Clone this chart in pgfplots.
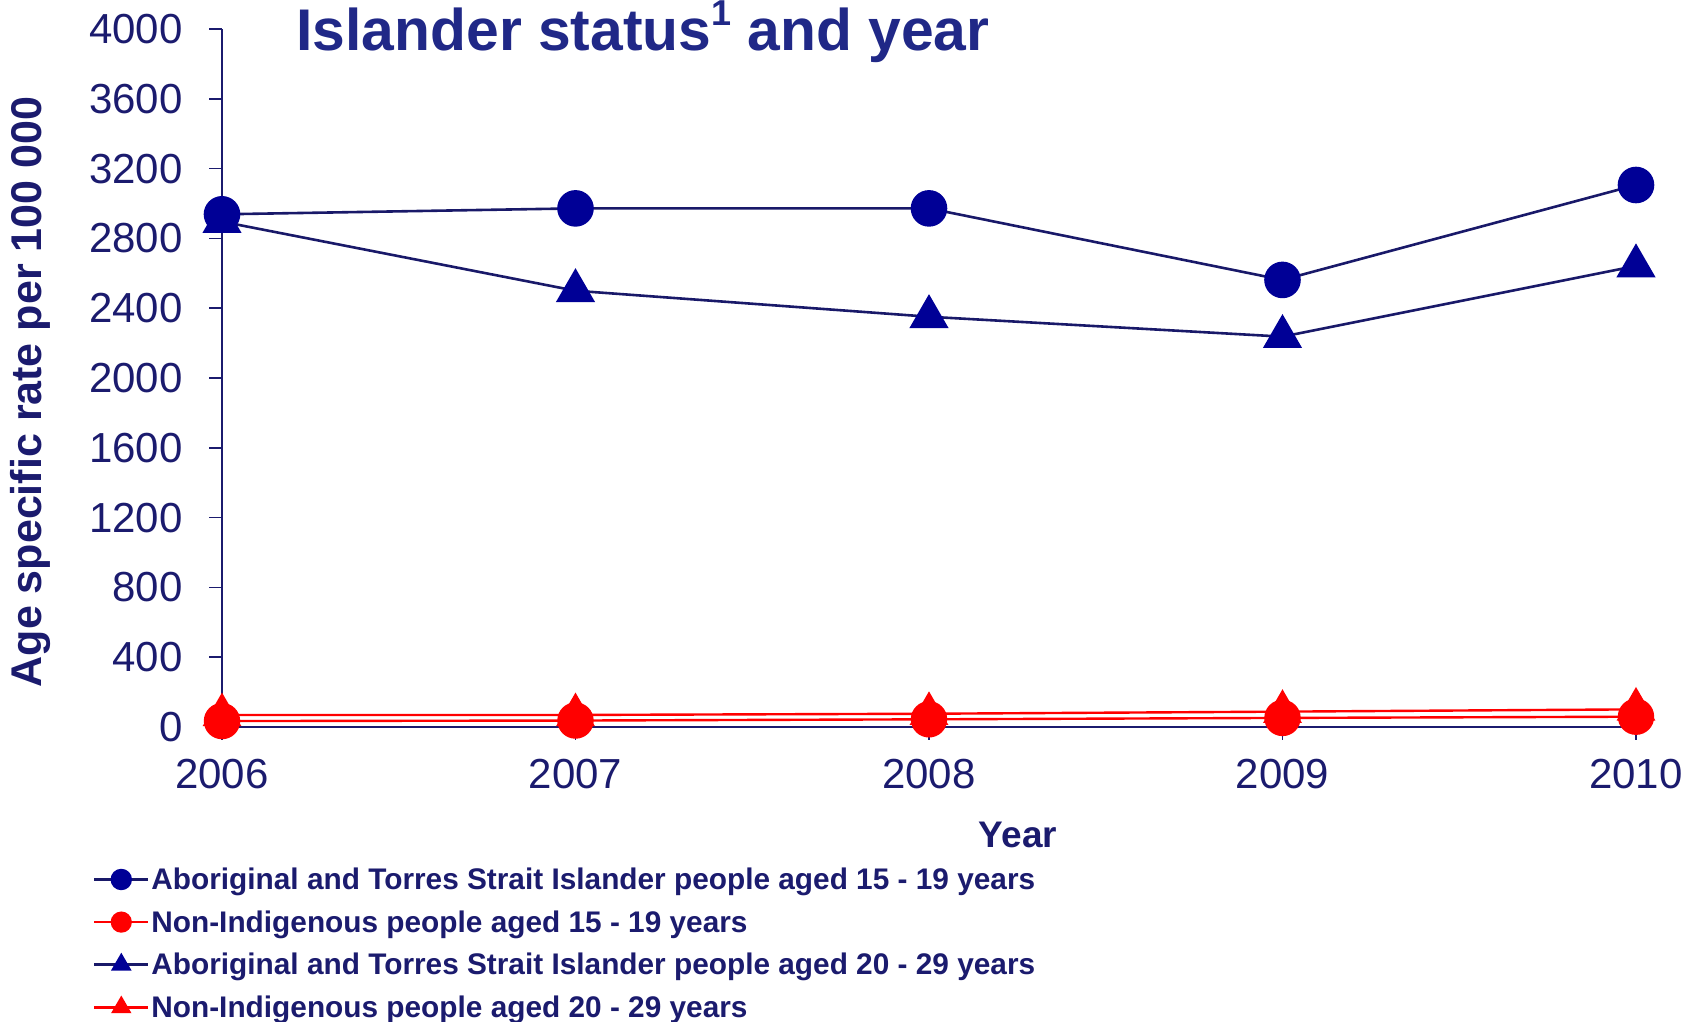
\documentclass[border=0pt]{standalone}
\usepackage{pgfplots}
\pgfplotsset{compat=1.18}
\usepackage{fontspec}
\setmainfont{Liberation Sans}

\definecolor{navytext}{RGB}{27,27,110}
\definecolor{titleblue}{RGB}{32,40,135}
\definecolor{linenavy}{RGB}{25,25,105}
\definecolor{markblue}{RGB}{0,0,150}
\definecolor{rateRed}{RGB}{255,0,0}

\begin{document}
\begin{tikzpicture}
\begin{axis}[
  at={(0pt,0pt)}, anchor=south west,
  scale only axis,
  width=707pt, height=349pt,
  xmin=2006, xmax=2010, ymin=0, ymax=4000,
  xtick={2006,2007,2008,2009,2010},
  ytick={0,400,...,4000},
  axis lines*=left,
  axis line style={draw=navytext, line width=0.8pt},
  tick style={draw=navytext, line width=0.8pt},
  tick align=outside,
  major tick length=6.5pt,
  clip=false,
  tick label style={font=\fontsize{21}{25}\selectfont, text=navytext},
  /pgf/number format/assume math mode=true,
  /pgf/number format/1000 sep={},
  yticklabel style={inner sep=0pt, xshift=-13pt},
  xticklabel style={inner sep=0pt, yshift=-9.5pt},
  legend style={
    at={(axis description cs:-0.09123,-0.1927)}, anchor=north west,
    draw=none, fill=none, inner sep=0pt, outer sep=0pt,
    row sep=0pt, column sep=0.9pt,
    font=\bfseries\fontsize{14.9}{18}\selectfont, text=navytext,
    nodes={inner sep=0pt, text height=14pt, text depth=7.3pt, anchor=base west},
  },
  legend cell align=left,
  legend image code/.code={
    \draw[mark repeat=2, mark phase=2, #1]
      plot coordinates {(0pt,5pt) (13.5pt,5pt) (27pt,5pt)};
  },
  legend image post style={mark size=4.7pt},
]
% Aboriginal and Torres Strait Islander, 15-19
\addplot[linenavy, line width=1.3pt, mark=*, mark size=8.5pt,
  mark options={solid, fill=markblue, draw=markblue}]
  coordinates {(2006,2938) (2007,2972) (2008,2972) (2009,2562) (2010,3106)};
\addlegendentry{Aboriginal and Torres Strait Islander people aged 15 - 19 years}
% Non-Indigenous, 15-19
\addplot[rateRed, line width=1.2pt, mark=*, mark size=8.5pt,
  mark options={solid, fill=rateRed, draw=rateRed}]
  coordinates {(2006,34) (2007,37) (2008,44) (2009,52) (2010,59)};
\addlegendentry{Non-Indigenous people aged 15 - 19 years}
% Aboriginal and Torres Strait Islander, 20-29
\addplot[linenavy, line width=1.3pt, mark=triangle*, mark size=10pt,
  mark options={solid, fill=markblue, draw=markblue}]
  coordinates {(2006,2896) (2007,2500) (2008,2351) (2009,2237) (2010,2642)};
\addlegendentry{Aboriginal and Torres Strait Islander people aged 20 - 29 years}
% Non-Indigenous, 20-29
\addplot[rateRed, line width=1.2pt, mark=triangle*, mark size=10pt,
  mark options={solid, fill=rateRed, draw=rateRed}]
  coordinates {(2006,69) (2007,69) (2008,76) (2009,88) (2010,101)};
\addlegendentry{Non-Indigenous people aged 20 - 29 years}
\end{axis}

\node[anchor=base west, inner sep=0pt, text=titleblue,
  font=\bfseries\fontsize{29.4}{34}\selectfont] at (37pt,338.2pt)
  {Islander status\raisebox{0.42em}{\fontsize{18}{20}\selectfont 1} and year};
\node[rotate=90, inner sep=0pt, text=navytext,
  font=\bfseries\fontsize{21.5}{26}\selectfont] at (-96pt,167.5pt)
  {Age specific rate per 100 000};
\node[anchor=base, inner sep=0pt, text=navytext,
  font=\bfseries\fontsize{18.5}{22}\selectfont] at (398pt,-60.5pt) {Year};

\pgfresetboundingbox
\useasboundingbox (-111pt,-147.5pt) rectangle (733pt,363.5pt);
\end{tikzpicture}
\end{document}
